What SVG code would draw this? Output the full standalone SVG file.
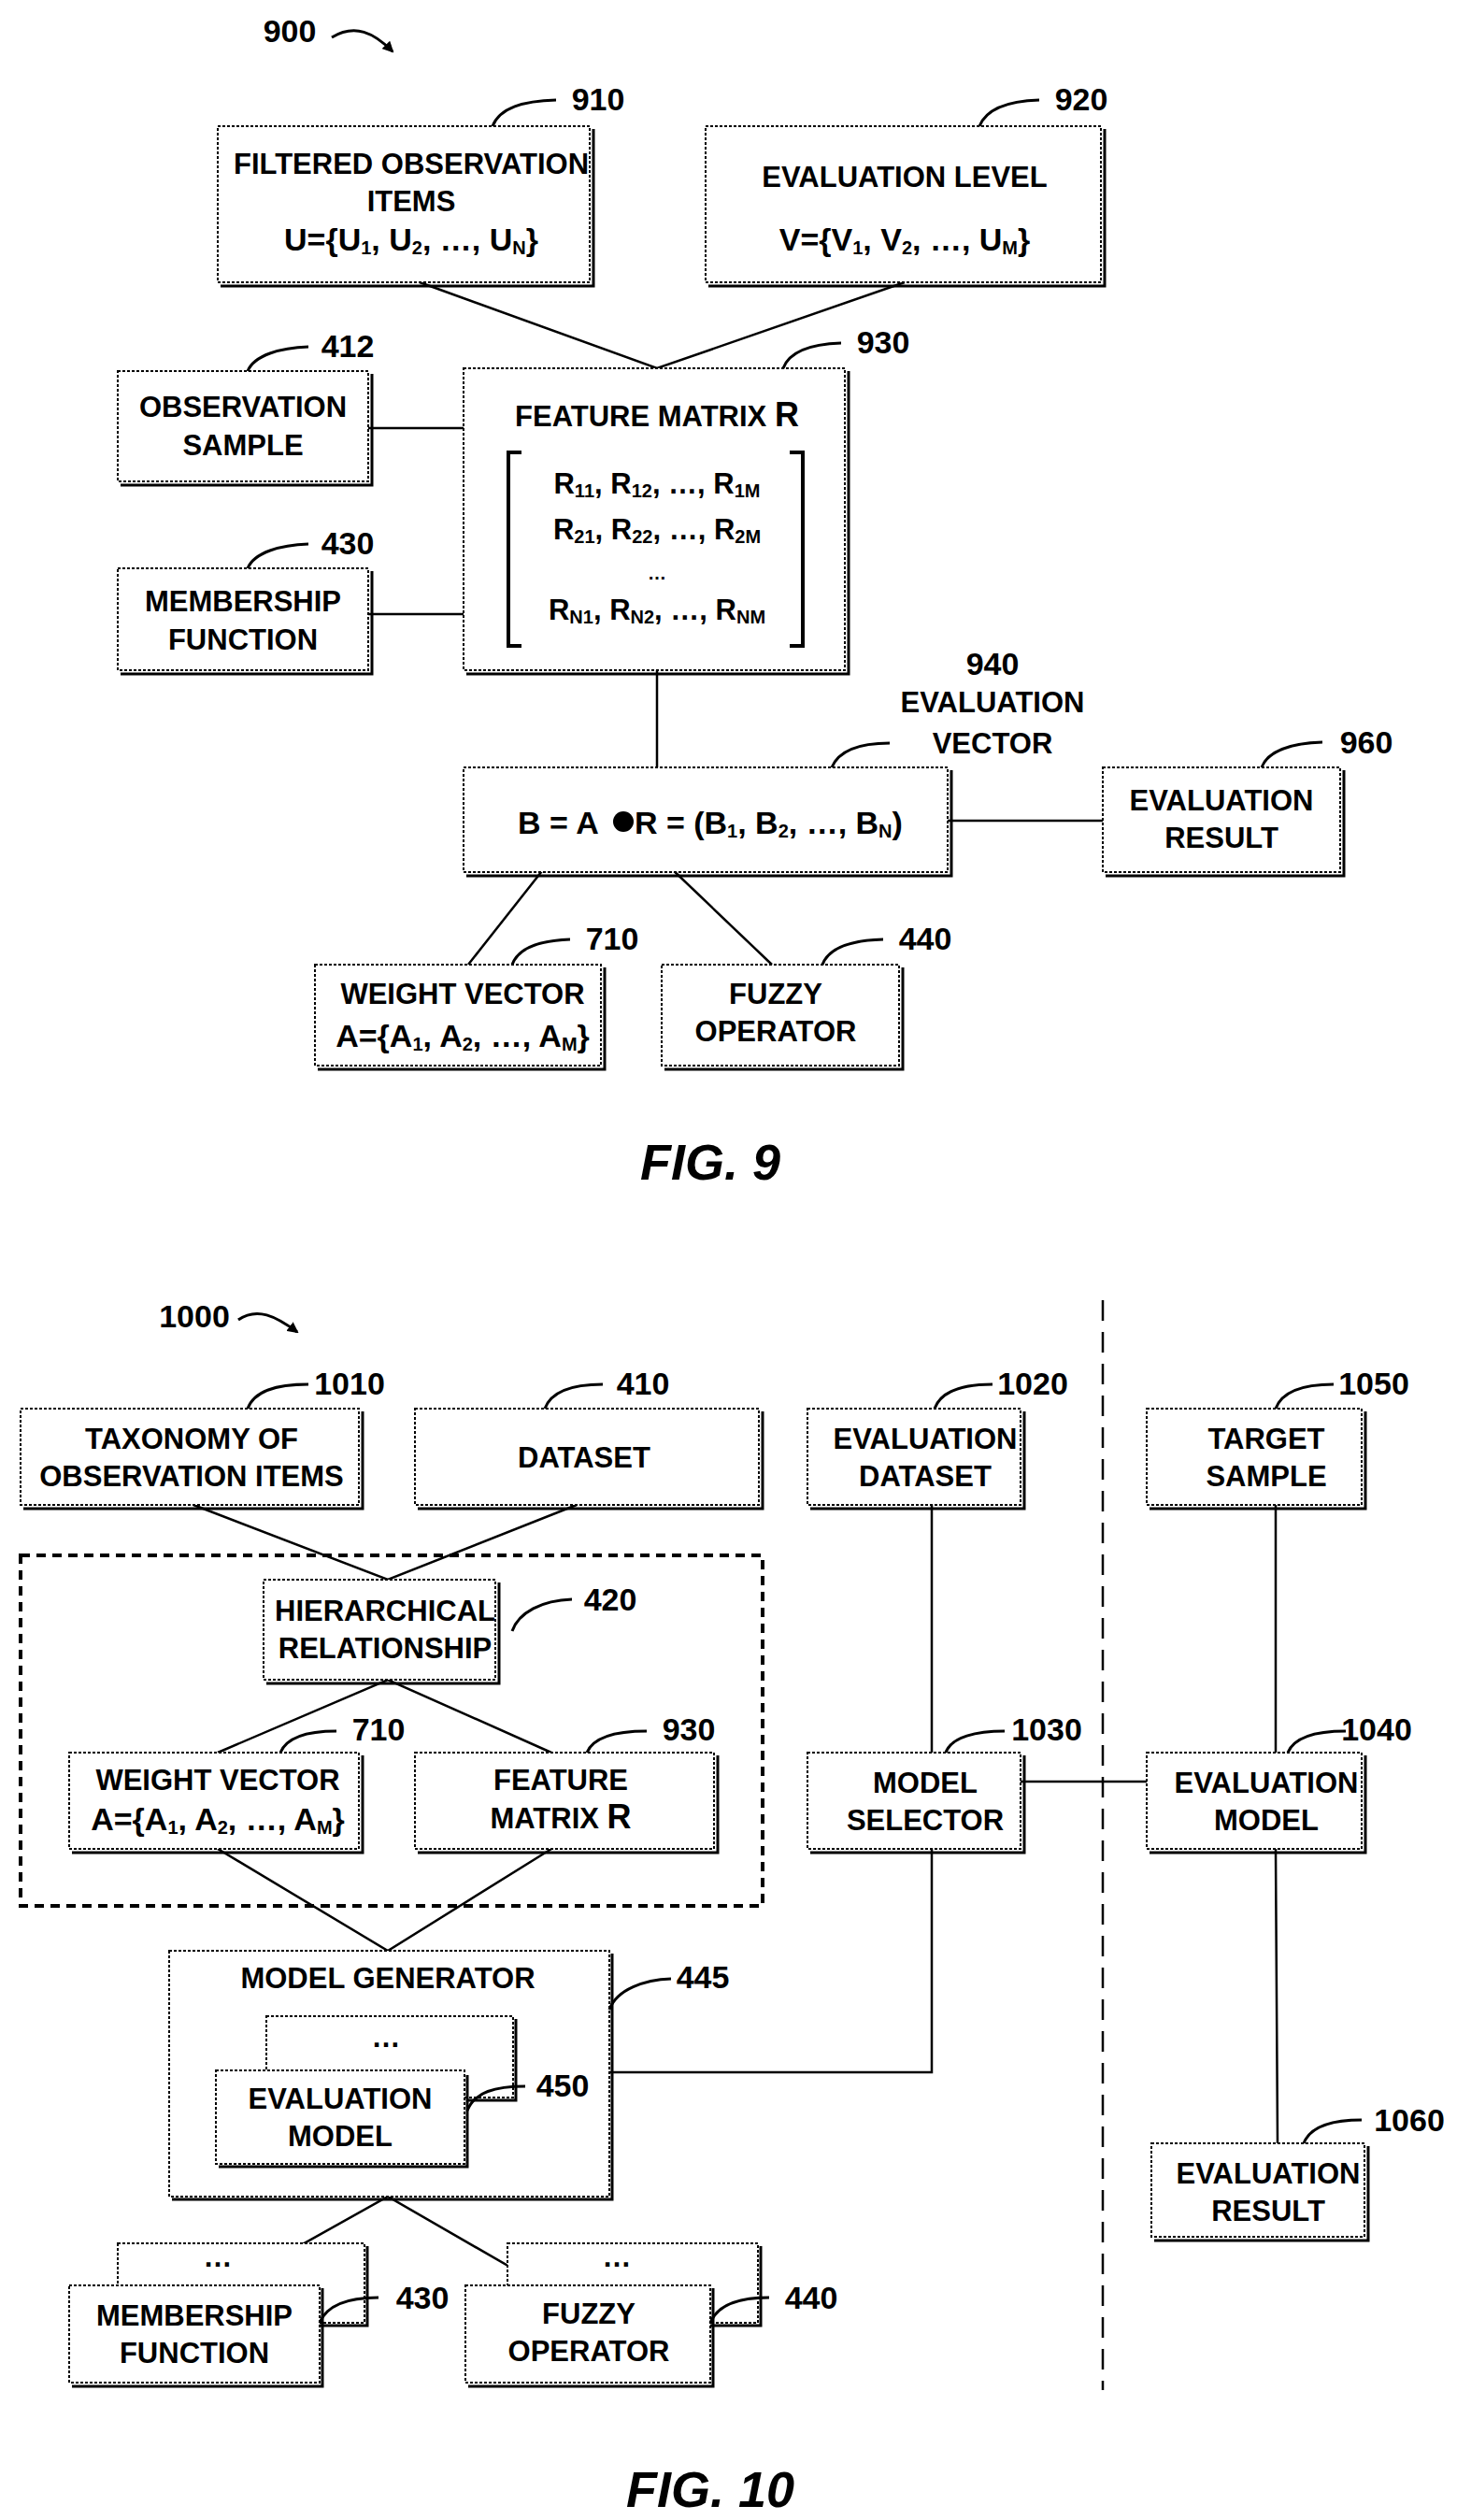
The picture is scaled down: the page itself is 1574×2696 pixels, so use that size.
<svg xmlns="http://www.w3.org/2000/svg" width="1574" height="2696" viewBox="0 0 1574 2696">
<defs>
<style>
text{font-family:"Liberation Sans Narrow","Liberation Sans",Arial,sans-serif;font-weight:bold;fill:#000;text-anchor:middle}
.t{font-size:31px}
.l{font-size:34px}
.s{font-size:20px}
.b{fill:#fff;stroke:#000;stroke-width:2;stroke-dasharray:3,2}
.sh{fill:none;stroke:#000;stroke-width:3}
.c{fill:none;stroke:#000;stroke-width:2.5}
.ld{fill:none;stroke:#000;stroke-width:3}
.fig{font-family:"Liberation Sans",Arial,sans-serif;font-style:italic;font-size:54px}
</style>
<marker id="ah" markerWidth="12" markerHeight="12" refX="10" refY="6" orient="auto" markerUnits="userSpaceOnUse"><path d="M0,0 L12,6 L0,12 Z"/></marker>
</defs>
<rect width="1574" height="2696" fill="#fff"/>

<g id="connectors">
<path class="c" d="M449,302 L703,394 L968,302"/>
<path class="c" d="M394,458 H496 M394,657 H496 M703,717 V870 M1014,878 H1180"/>
<path class="c" d="M613,890 L501,1032 M672,885 L826,1032"/>
<path class="c" d="M207,1610 L415,1690 L617,1610"/>
<path class="c" d="M233,1875 L415,1797 L590,1875"/>
<path class="c" d="M233,1978 L415,2087 L590,1978"/>
<path class="c" d="M652,2217 H997 V1978 M997,1610 V1875 M1092,1906 H1227 M1365,1610 V1875 M1365,1978 L1367,2293"/>
<path class="c" d="M245,2445 L415,2350 L580,2445"/>
<path d="M1180,1391 V2557" stroke="#000" stroke-width="2.5" stroke-dasharray="22,12" fill="none"/>
<rect x="22" y="1664" width="794" height="375" fill="none" stroke="#000" stroke-width="4" stroke-dasharray="10,7"/>
</g>

<g id="fig9-label"><text class="l" x="310" y="45">900</text><path class="ld" d="M355,40 C380,25 400,35 420,55" marker-end="url(#ah)"/></g>

<g id="n910"><path class="sh" d="M635,138 V306 H236"/><rect class="b" x="233" y="135" width="398" height="167"/>
<text class="t" x="440" y="186">FILTERED OBSERVATION</text><text class="t" x="440" y="226">ITEMS</text>
<text class="l" x="440" y="268">U={U<tspan class="s" dy="4">1</tspan><tspan dy="-4">, U</tspan><tspan class="s" dy="4">2</tspan><tspan dy="-4">, …, U</tspan><tspan class="s" dy="4">N</tspan><tspan dy="-4">}</tspan></text>
<path class="ld" d="M527,135 C535,115 560,108 595,107"/><text class="l" x="640" y="118">910</text></g>

<g id="n920"><path class="sh" d="M1182,138 V306 H758"/><rect class="b" x="755" y="135" width="423" height="167"/>
<text class="t" x="968" y="200">EVALUATION LEVEL</text>
<text class="l" x="968" y="268">V={V<tspan class="s" dy="4">1</tspan><tspan dy="-4">, V</tspan><tspan class="s" dy="4">2</tspan><tspan dy="-4">, …, U</tspan><tspan class="s" dy="4">M</tspan><tspan dy="-4">}</tspan></text>
<path class="ld" d="M1048,135 C1056,115 1080,108 1112,107"/><text class="l" x="1157" y="118">920</text></g>

<g id="n930"><path class="sh" d="M908,397 V721 H499"/><rect class="b" x="496" y="394" width="408" height="323"/>
<text class="t" x="703" y="456">FEATURE MATRIX <tspan font-size="36">R</tspan></text>
<path d="M558,484 H544 V691 H558 M845,484 H859 V691 H845" fill="none" stroke="#000" stroke-width="4"/>
<text class="t" x="703" y="528">R<tspan class="s" dy="4">11</tspan><tspan dy="-4">, R</tspan><tspan class="s" dy="4">12</tspan><tspan dy="-4">, …, R</tspan><tspan class="s" dy="4">1M</tspan></text>
<text class="t" x="703" y="577">R<tspan class="s" dy="4">21</tspan><tspan dy="-4">, R</tspan><tspan class="s" dy="4">22</tspan><tspan dy="-4">, …, R</tspan><tspan class="s" dy="4">2M</tspan></text>
<text class="s" x="703" y="620">…</text>
<text class="t" x="703" y="663">R<tspan class="s" dy="4">N1</tspan><tspan dy="-4">, R</tspan><tspan class="s" dy="4">N2</tspan><tspan dy="-4">, …, R</tspan><tspan class="s" dy="4">NM</tspan></text>
<path class="ld" d="M838,394 C845,375 870,368 900,367"/><text class="l" x="945" y="378">930</text></g>

<g id="n412"><path class="sh" d="M398,400 V519 H129"/><rect class="b" x="126" y="397" width="268" height="118"/>
<text class="t" x="260" y="446">OBSERVATION</text><text class="t" x="260" y="487">SAMPLE</text>
<path class="ld" d="M265,397 C272,380 300,372 330,371"/><text class="l" x="372" y="382">412</text></g>

<g id="n430a"><path class="sh" d="M398,611 V721 H129"/><rect class="b" x="126" y="608" width="268" height="109"/>
<text class="t" x="260" y="654">MEMBERSHIP</text><text class="t" x="260" y="695">FUNCTION</text>
<path class="ld" d="M265,608 C272,591 300,583 330,582"/><text class="l" x="372" y="593">430</text></g>

<g id="n940"><path class="sh" d="M1018,824 V937 H499"/><rect class="b" x="496" y="821" width="518" height="112"/>
<text class="l" x="760" y="892" font-size="38"><tspan>B = A </tspan><tspan fill="none">●</tspan><tspan> R = (B</tspan><tspan class="s" dy="4">1</tspan><tspan dy="-4">, B</tspan><tspan class="s" dy="4">2</tspan><tspan dy="-4">, …, B</tspan><tspan class="s" dy="4">N</tspan><tspan dy="-4">)</tspan></text>
<circle cx="667" cy="879" r="11"/>
<path class="ld" d="M890,821 C898,802 920,795 952,795"/>
<text class="l" x="1062" y="722">940</text><text class="t" x="1062" y="762">EVALUATION</text><text class="t" x="1062" y="806">VECTOR</text></g>

<g id="n960"><path class="sh" d="M1438,824 V937 H1183"/><rect class="b" x="1180" y="821" width="254" height="112"/>
<text class="t" x="1307" y="867">EVALUATION</text><text class="t" x="1307" y="907">RESULT</text>
<path class="ld" d="M1350,821 C1357,802 1385,795 1415,794"/><text class="l" x="1462" y="806">960</text></g>

<g id="n710a"><path class="sh" d="M647,1035 V1144 H340"/><rect class="b" x="337" y="1032" width="306" height="108"/>
<text class="t" x="495" y="1074">WEIGHT VECTOR</text>
<text class="l" x="495" y="1120">A={A<tspan class="s" dy="4">1</tspan><tspan dy="-4">, A</tspan><tspan class="s" dy="4">2</tspan><tspan dy="-4">, …, A</tspan><tspan class="s" dy="4">M</tspan><tspan dy="-4">}</tspan></text>
<path class="ld" d="M548,1032 C555,1013 580,1006 610,1005"/><text class="l" x="655" y="1016">710</text></g>

<g id="n440a"><path class="sh" d="M966,1035 V1144 H711"/><rect class="b" x="708" y="1032" width="254" height="108"/>
<text class="t" x="830" y="1074">FUZZY</text><text class="t" x="830" y="1114">OPERATOR</text>
<path class="ld" d="M880,1032 C887,1013 912,1006 945,1005"/><text class="l" x="990" y="1016">440</text></g>

<text class="fig" x="760" y="1262">FIG. 9</text>

<g id="fig10-label"><text class="l" x="208" y="1420">1000</text><path class="ld" d="M255,1412 C275,1398 295,1408 318,1425" marker-end="url(#ah)"/></g>

<g id="n1010"><path class="sh" d="M388,1510 V1614 H25"/><rect class="b" x="22" y="1507" width="362" height="103"/>
<text class="t" x="205" y="1550">TAXONOMY OF</text><text class="t" x="205" y="1590">OBSERVATION ITEMS</text>
<path class="ld" d="M265,1507 C272,1488 295,1481 330,1481"/><text class="l" x="374" y="1492">1010</text></g>

<g id="n410"><path class="sh" d="M816,1510 V1614 H447"/><rect class="b" x="444" y="1507" width="368" height="103"/>
<text class="t" x="625" y="1570">DATASET</text>
<path class="ld" d="M583,1507 C590,1488 612,1481 645,1481"/><text class="l" x="688" y="1492">410</text></g>

<g id="n1020"><path class="sh" d="M1096,1510 V1614 H867"/><rect class="b" x="864" y="1507" width="228" height="103"/>
<text class="t" x="990" y="1550">EVALUATION</text><text class="t" x="990" y="1590">DATASET</text>
<path class="ld" d="M1000,1507 C1007,1488 1030,1481 1062,1481"/><text class="l" x="1105" y="1492">1020</text></g>

<g id="n1050"><path class="sh" d="M1461,1510 V1614 H1230"/><rect class="b" x="1227" y="1507" width="230" height="103"/>
<text class="t" x="1355" y="1550">TARGET</text><text class="t" x="1355" y="1590">SAMPLE</text>
<path class="ld" d="M1365,1507 C1372,1488 1395,1481 1427,1481"/><text class="l" x="1470" y="1492">1050</text></g>

<g id="n420"><path class="sh" d="M534,1693 V1801 H285"/><rect class="b" x="282" y="1690" width="248" height="107"/>
<text class="t" x="412" y="1734">HIERARCHICAL</text><text class="t" x="412" y="1774">RELATIONSHIP</text>
<path class="ld" d="M548,1745 C555,1725 580,1712 612,1711"/><text class="l" x="653" y="1723">420</text></g>

<g id="n710b"><path class="sh" d="M388,1878 V1982 H77"/><rect class="b" x="74" y="1875" width="310" height="103"/>
<text class="t" x="233" y="1915">WEIGHT VECTOR</text>
<text class="l" x="233" y="1958">A={A<tspan class="s" dy="4">1</tspan><tspan dy="-4">, A</tspan><tspan class="s" dy="4">2</tspan><tspan dy="-4">, …, A</tspan><tspan class="s" dy="4">M</tspan><tspan dy="-4">}</tspan></text>
<path class="ld" d="M300,1875 C307,1858 330,1852 360,1852"/><text class="l" x="405" y="1862">710</text></g>

<g id="n930b"><path class="sh" d="M768,1878 V1982 H447"/><rect class="b" x="444" y="1875" width="320" height="103"/>
<text class="t" x="600" y="1915">FEATURE</text><text class="t" x="600" y="1956">MATRIX <tspan font-size="36">R</tspan></text>
<path class="ld" d="M628,1875 C635,1858 660,1852 692,1852"/><text class="l" x="737" y="1862">930</text></g>

<g id="n1030"><path class="sh" d="M1096,1878 V1982 H867"/><rect class="b" x="864" y="1875" width="228" height="103"/>
<text class="t" x="990" y="1918">MODEL</text><text class="t" x="990" y="1958">SELECTOR</text>
<path class="ld" d="M1012,1875 C1018,1858 1045,1852 1075,1852"/><text class="l" x="1120" y="1862">1030</text></g>

<g id="n1040"><path class="sh" d="M1461,1878 V1982 H1230"/><rect class="b" x="1227" y="1875" width="230" height="103"/>
<text class="t" x="1355" y="1918">EVALUATION</text><text class="t" x="1355" y="1958">MODEL</text>
<path class="ld" d="M1378,1875 C1385,1858 1410,1852 1440,1852"/><text class="l" x="1473" y="1862">1040</text></g>

<g id="n445"><path class="sh" d="M655,2090 V2353 H184"/><rect class="b" x="181" y="2087" width="471" height="263"/>
<text class="t" x="415" y="2127">MODEL GENERATOR</text>
<path class="ld" d="M652,2150 C660,2128 690,2118 718,2117"/><text class="l" x="752" y="2127">445</text></g>

<g id="n450"><rect x="285" y="2157" width="264" height="87" fill="#fff" stroke="#000" stroke-width="2" stroke-dasharray="3,2"/><path class="sh" d="M552,2160 V2247 H500"/>
<text class="t" x="413" y="2190">…</text>
<path class="sh" d="M500,2220 V2318 H234"/><rect class="b" x="231" y="2215" width="266" height="100"/>
<text class="t" x="364" y="2256">EVALUATION</text><text class="t" x="364" y="2296">MODEL</text>
<path class="ld" d="M500,2258 C508,2238 530,2232 562,2232"/><text class="l" x="602" y="2243">450</text></g>

<g id="n1060"><path class="sh" d="M1464,2296 V2397 H1235"/><rect class="b" x="1232" y="2293" width="228" height="100"/>
<text class="t" x="1357" y="2336">EVALUATION</text><text class="t" x="1357" y="2376">RESULT</text>
<path class="ld" d="M1395,2293 C1402,2275 1425,2268 1457,2268"/><text class="l" x="1508" y="2280">1060</text></g>

<g id="n430b"><rect x="126" y="2400" width="264" height="85" fill="#fff" stroke="#000" stroke-width="2" stroke-dasharray="3,2"/><path class="sh" d="M393,2403 V2488 H342"/>
<text class="t" x="233" y="2425">…</text>
<path class="sh" d="M345,2448 V2553 H77"/><rect class="b" x="74" y="2445" width="268" height="104"/>
<text class="t" x="208" y="2488">MEMBERSHIP</text><text class="t" x="208" y="2528">FUNCTION</text>
<path class="ld" d="M342,2485 C350,2465 375,2458 405,2458"/><text class="l" x="452" y="2470">430</text></g>

<g id="n440b"><rect x="543" y="2400" width="268" height="85" fill="#fff" stroke="#000" stroke-width="2" stroke-dasharray="3,2"/><path class="sh" d="M814,2403 V2488 H760"/>
<text class="t" x="660" y="2425">…</text>
<path class="sh" d="M763,2448 V2553 H501"/><rect class="b" x="498" y="2445" width="262" height="104"/>
<text class="t" x="630" y="2486">FUZZY</text><text class="t" x="630" y="2526">OPERATOR</text>
<path class="ld" d="M760,2485 C768,2465 793,2458 823,2458"/><text class="l" x="868" y="2470">440</text></g>

<text class="fig" x="760" y="2682">FIG. 10</text>
</svg>
